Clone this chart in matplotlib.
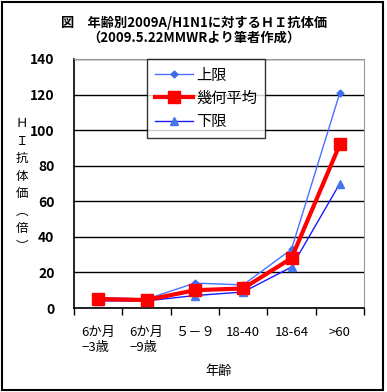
import numpy as np
import matplotlib as mpl
mpl.use('Agg')
import matplotlib.pyplot as plt
from matplotlib.patches import Rectangle

plt.rcParams['font.family'] = ['Noto Sans CJK JP', 'DejaVu Sans']

categories = ['6か月\n−3歳', '6か月\n−9歳', '５－９', '18-40', '18-64', '>60']
upper = [6, 5, 14, 13, 33, 121]
geomean = [5, 4.5, 10, 11, 28, 92]
lower = [4, 4, 7, 9, 23, 70]
yticks = [0, 20, 40, 60, 80, 100, 120, 140]

fig = plt.figure(figsize=(3.87, 3.92), dpi=100)
ax = fig.add_axes([74/387, 1-308/392, 290/387, 249/392])

x = np.arange(len(categories))
ax.plot(x, upper, color='#4a72ff', lw=1, marker='D', ms=3.5,
        mfc='#3f6cf0', mec='#3f6cf0', label='上限', zorder=3)
ax.plot(x, geomean, color='#ff0000', lw=3, marker='s', ms=8.5,
        label='幾何平均', zorder=4)
ax.plot(x, lower, color='#1a1aff', lw=1, marker='^', ms=6,
        mfc='#4477ee', mec='#4477ee', label='下限', zorder=3)

ax.set_xlim(-0.5, 5.5)
ax.set_ylim(0, 140)
ax.set_yticks(yticks)
ax.yaxis.grid(True, color='black', lw=1)
ax.set_axisbelow(True)
ax.set_xticks(x)
ax.set_xticklabels(categories, fontsize=9.5, multialignment='left')
ax.set_xticks(np.arange(-0.5, 6, 1), minor=True)
ax.tick_params(axis='x', which='major', length=0, pad=13)
ax.tick_params(axis='x', which='minor', length=5, direction='out', width=1)
ax.tick_params(axis='y', length=0, pad=14, labelsize=10)
for lab in ax.get_yticklabels():
    lab.set_fontweight('bold')
ax.spines['top'].set_color('#999999')
ax.spines['right'].set_color('#999999')
ax.spines['left'].set_linewidth(1.2)
ax.spines['bottom'].set_linewidth(1.2)
ax.set_xlabel('年齢', fontsize=9.5, labelpad=8)

leg = ax.legend(loc='upper left', bbox_to_anchor=(73/290, 1.0), fontsize=11,
                frameon=True, fancybox=False, edgecolor='black',
                handlelength=2.5, handletextpad=0.2, borderpad=0.5,
                labelspacing=0.4, borderaxespad=0)
leg.get_frame().set_linewidth(1)

fig.text(194/387, 1-23/392, '図　年齢別2009A/H1N1に対するＨＩ抗体価',
         ha='center', va='center', fontsize=9.5, fontweight='bold')
fig.text(194/387, 1-38/392, '（2009.5.22MMWRより筆者作成）',
         ha='center', va='center', fontsize=9.5, fontweight='bold')
fig.text(22/387, 1-185/392, '\n'.join('ＨＩ抗体価︵倍︶'),
         ha='center', va='center', fontsize=9, linespacing=1.45)

fig.patches.append(Rectangle((1.5/387, 2.5/392), 381.5/387, 388/392,
                             transform=fig.transFigure, fill=False,
                             edgecolor='black', lw=1.5))

fig.savefig('out.png', dpi=100)
